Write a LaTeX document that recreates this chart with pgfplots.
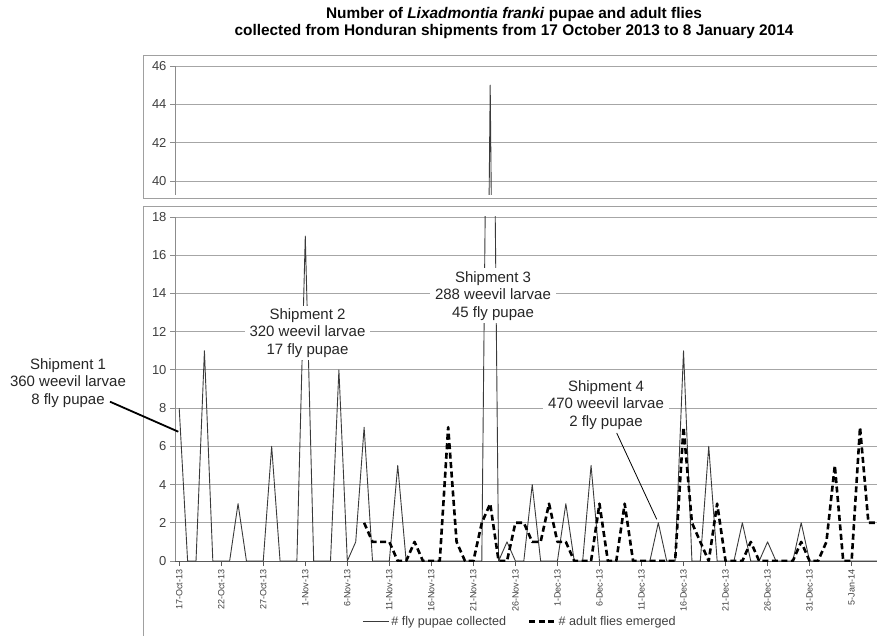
\documentclass[border=0pt]{standalone}
\usepackage{fontspec}
\setmainfont{Liberation Sans}
\usepackage{pgfplots}
\pgfplotsset{compat=1.18}
\usepackage{pgfplotstable}

\definecolor{gridc}{HTML}{A6A6A6}
\definecolor{yaxc}{HTML}{8C8C8C}
\definecolor{xaxc}{HTML}{595959}
\definecolor{solidc}{HTML}{3A3A3A}
\definecolor{framec}{HTML}{A0A0A0}
\definecolor{tickc}{HTML}{404040}
\definecolor{annc}{HTML}{262626}

\pgfplotstableread{
d s
0 8
1 0
2 0
3 11
4 0
5 0
6 0
7 3
8 0
9 0
10 0
11 6
12 0
13 0
14 0
15 17
16 0
17 0
18 0
19 10
20 0
21 1
22 7
23 0
24 0
25 0
26 5
27 0
28 0
29 0
30 0
31 0
32 0
33 0
34 0
35 0
36 0
37 45
38 0
39 1
40 0
41 0
42 4
43 0
44 0
45 0
46 3
47 0
48 0
49 5
50 0
51 0
52 0
53 0
54 0
55 0
56 0
57 2
58 0
59 0
60 11
61 0
62 0
63 6
64 0
65 0
66 0
67 2
68 0
69 0
70 1
71 0
72 0
73 0
74 2
75 0
76 0
77 0
78 0
79 0
80 0
81 0
82 0
83 0
}\pupae

\pgfplotstableread{
d a
22 2
23 1
24 1
25 1
26 0
27 0
28 1
29 0
30 0
31 0
32 7
33 1
34 0
35 0
36 2
37 3
38 0
39 0
40 2
41 2
42 1
43 1
44 3
45 1
46 1
47 0
48 0
49 0
50 3
51 0
52 0
53 3
54 0
55 0
56 0
57 0
58 0
59 0
60 7
61 2
62 1
63 0
64 3
65 0
66 0
67 0
68 1
69 0
70 0
71 0
72 0
73 0
74 1
75 0
76 0
77 1
78 5
79 0
80 0
81 7
82 2
83 2
}\adults

\pgfplotsset{
  common/.style={
    scale only axis, width=702pt, xmin=-0.5, xmax=83.02,
    ymajorgrids, grid style={gridc, line width=0.8pt},
    y axis line style={yaxc, line width=0.8pt},
    tick align=outside, major tick length=5pt,
    ytick style={yaxc, line width=0.8pt},
    /pgf/number format/assume math mode=true,
    yticklabel style={font=\fontsize{13}{13}\selectfont, text=tickc},
    clip mode=individual,
  }
}

\begin{document}
\begin{tikzpicture}
\useasboundingbox (0pt,0pt) rectangle (877pt,635pt);
\clip (0pt,0pt) rectangle (877pt,635pt);
\draw[framec, line width=0.8pt] (143.5pt,437pt) rectangle (900pt,580pt);
\draw[framec, line width=0.8pt] (143.5pt,-10pt) rectangle (900pt,428.5pt);

\node[font=\bfseries\fontsize{15.4}{17.5}\selectfont, align=center] at (514pt,612pt)
  {Number of \textit{Lixadmontia franki} pupae and adult flies\\collected from Honduran shipments from 17 October 2013 to 8 January 2014};

% top panel
\begin{axis}[common, at={(175pt,440pt)}, anchor=south west, height=129pt,
  ymin=39.27, ymax=46, ytick={40,42,44,46},
  axis x line=none, axis y line*=left, xtick=\empty]
\addplot[solidc, line width=0.9pt, line join=round] table[x=d,y=s]{\pupae};
\end{axis}

% bottom panel
\begin{axis}[common, at={(175pt,74pt)}, anchor=south west, height=344pt,
  ymin=0, ymax=18, ytick={0,2,...,18},
  axis x line*=bottom, axis y line*=left,
  x axis line style={xaxc, line width=0.8pt},
  xtick={0,5,...,80},
  xtick style={xaxc, line width=0.8pt},
  xticklabels={17-Oct-13,22-Oct-13,27-Oct-13,1-Nov-13,6-Nov-13,11-Nov-13,16-Nov-13,21-Nov-13,26-Nov-13,1-Dec-13,6-Dec-13,11-Dec-13,16-Dec-13,21-Dec-13,26-Dec-13,31-Dec-13,5-Jan-14},
  xticklabel style={rotate=90, anchor=east, font=\fontsize{9}{9}\selectfont, text=tickc},
  legend style={at={(0.4915,-0.1765)}, anchor=center, draw=none, fill=none,
    nodes={font=\fontsize{12.6}{13}\selectfont, text=tickc, inner xsep=2pt},
    legend columns=2,
    /tikz/every even column/.append style={column sep=20pt}},
  legend cell align=left,
  legend image code/.code={\draw[#1] (0pt,0pt) -- (26pt,0pt);}]
\addplot[solidc, line width=0.9pt, line join=round] table[x=d,y=s]{\pupae};
\addlegendentry{\# fly pupae collected}
\addplot[black, line width=2.6pt, line join=round, dash pattern=on 6pt off 3.5pt] table[x=d,y=a]{\adults};
\addlegendentry{\# adult flies emerged}
\end{axis}

\tikzset{annot/.style={align=center, font=\fontsize{15}{17.5}\selectfont, text=annc, fill=white, inner xsep=5pt, inner ysep=3pt}}
\node[annot] at (68pt,252pt) {Shipment 1\\360 weevil larvae\\8 fly pupae};
\node[annot] at (307.5pt,302pt) {Shipment 2\\320 weevil larvae\\17 fly pupae};
\node[annot] at (493pt,339.3pt) {Shipment 3\\288 weevil larvae\\45 fly pupae};
\node[annot] at (606pt,230pt) {Shipment 4\\470 weevil larvae\\2 fly pupae};
\draw[black, line width=1.8pt] (110pt,233.3pt) -- (178.3pt,203.3pt);
\draw[black, line width=0.8pt] (616.7pt,202pt) -- (656.7pt,115.7pt);
\end{tikzpicture}
\end{document}
